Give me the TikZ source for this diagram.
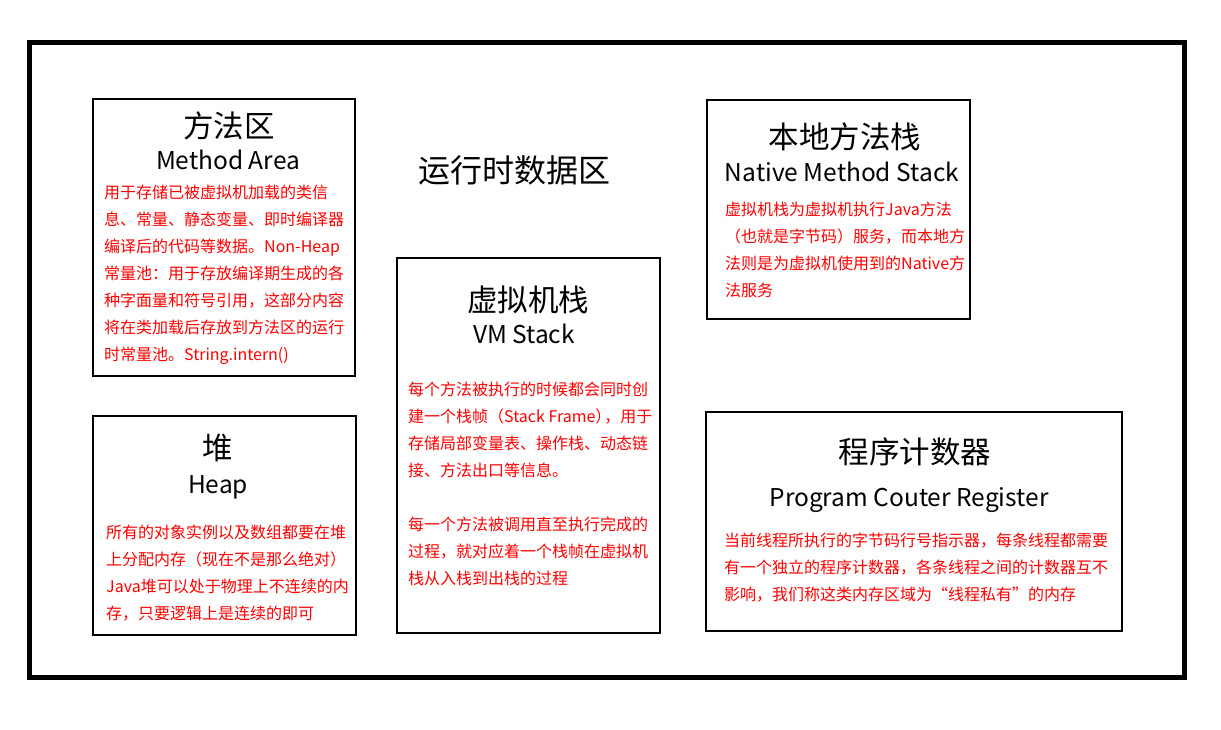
\documentclass[tikz,border=0pt]{standalone}
\usepackage{fontspec}
\setmainfont{Noto Sans CJK SC}
\begin{document}
\begin{tikzpicture}[x=1pt,y=-1pt,
  area/.style={draw=black,line width=1.3pt},
  cntitle/.style={font=\fontsize{30.5}{34}\selectfont,inner sep=0pt},
  entitle/.style={font=\fontsize{24.5}{28}\selectfont,inner sep=0pt},
  desc/.style={font=\fontsize{16}{27}\selectfont,text=red,align=left,anchor=north west,inner sep=0pt}]
\useasboundingbox (0,0) rectangle (1221,729);
\draw[line width=5pt] (29.5,42.5) rectangle (1184.5,677.5);
\node[inner sep=0pt,font=\fontsize{32}{36}\selectfont] (rt) at (514,170) {运行时数据区};
% Method area
\draw[area] (93,99) rectangle (355,376);
\node[cntitle] (ma1) at (229,126) {方法区};
\node[entitle] (ma2) at (228,160) {Method Area};
\node[desc] (ma3) at (104,185) {用于存储已被虚拟机加载的类信\\息、常量、静态变量、即时编译器\\编译后的代码等数据。Non-Heap\\常量池：用于存放编译期生成的各\\种字面量和符号引用，这部分内容\\将在类加载后存放到方法区的运行\\时常量池。String.intern()};
% Heap
\draw[area] (93,416) rectangle (356,635);
\node[cntitle] (h1) at (218,448) {堆};
\node[entitle] (h2) at (218,487) {Heap};
\node[desc] (h3) at (106,525) {所有的对象实例以及数组都要在堆\\上分配内存（现在不是那么绝对）\\Java堆可以处于物理上不连续的内\\存，只要逻辑上是连续的即可};
% VM stack
\draw[area] (397,258) rectangle (660,633);
\node[cntitle] (v1) at (528,300) {虚拟机栈};
\node[entitle] (v2) at (524,334) {VM Stack};
\node[desc] (v3) at (408,382) {每个方法被执行的时候都会同时创\\建一个栈帧（Stack Frame）\kern-7pt，用于\\存储局部变量表、操作栈、动态链\\接、方法出口等信息。\\[27pt]每一个方法被调用直至执行完成的\\过程，就对应着一个栈帧在虚拟机\\栈从入栈到出栈的过程};
% Native
\draw[area] (707,100) rectangle (970,319);
\node[cntitle] (n1) at (845,137) {本地方法栈};
\node[entitle] (n2) at (842,172) {Native Method Stack};
\node[desc] (n3) at (725,202) {虚拟机栈为虚拟机执行Java方法\\（也就是字节码）服务，而本地方\\法则是为虚拟机使用到的Native方\\法服务};
% PC
\draw[area] (706,412) rectangle (1122,631);
\node[cntitle] (p1) at (915,452) {程序计数器};
\node[entitle] (p2) at (909,500) {Program Couter Register};
\node[desc] (p3) at (724,533) {当前线程所执行的字节码行号指示器，每条线程都需要\\有一个独立的程序计数器，各条线程之间的计数器互不\\影响，我们称这类内存区域为“线程私有”的内存};
\end{tikzpicture}
\end{document}
